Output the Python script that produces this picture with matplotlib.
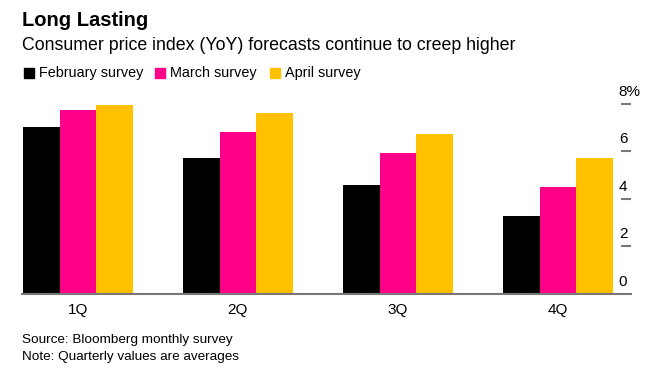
import numpy as np
import matplotlib.pyplot as plt
from matplotlib.patches import Rectangle
import matplotlib.transforms as mtransforms

plt.rcParams['font.family'] = ['Liberation Sans', 'DejaVu Sans']

quarters = ["1Q", "2Q", "3Q", "4Q"]
feb = [7.00, 5.71, 4.59, 3.28]
mar = [7.72, 6.79, 5.92, 4.50]
apr = [7.93, 7.59, 6.71, 5.71]
series_names = ["February survey", "March survey", "April survey"]
colors = ["#000000", "#ff0088", "#ffc000"]
yticks = [0, 2, 4, 6, 8]
ytick_labels = ["0", "2", "4", "6", "8%"]

fig = plt.figure(figsize=(6.6, 3.75), dpi=100)
ax = fig.add_axes([22 / 660, 1 - 293.7 / 375, 609 / 660, 190 / 375])

x = np.arange(len(quarters))
w = 0.229
for i, (vals, c) in enumerate(zip([feb, mar, apr], colors)):
    ax.bar(x + (i - 1) * w, vals, width=w, color=c, linewidth=0)

ax.set_xlim(-0.349, 3.457)
ax.set_ylim(0, 8)
for s in ["top", "left", "right"]:
    ax.spines[s].set_visible(False)
ax.spines["bottom"].set_color("#777777")
ax.spines["bottom"].set_linewidth(1.5)

ax.set_xticks(x)
ax.set_xticklabels(quarters, fontsize=11)
ax.tick_params(axis="x", length=0, pad=7)

ax.yaxis.tick_right()
ax.set_yticks(yticks[1:])
ax.set_yticklabels([])
ax.tick_params(axis="y", direction="in", length=7.5, width=1.5, color="#777777", pad=0)

# value labels sit just above each tick dash
offset = mtransforms.offset_copy(ax.get_yaxis_transform(), fig=fig, x=0, y=12, units="dots")
for v, lab in zip(yticks, ytick_labels):
    ax.text(0.98, v, lab, transform=offset, ha="left", va="center", fontsize=11)

fig.text(22 / 660, 1 - 20 / 375, "Long Lasting", fontsize=14.5, fontweight="bold", va="center")
fig.text(22 / 660, 1 - 46 / 375, "Consumer price index (YoY) forecasts continue to creep higher",
         fontsize=12.8, va="center")

# legend
lx = [24, 155, 270]
for px, name, c in zip(lx, series_names, colors):
    fig.patches.append(Rectangle((px / 660, 1 - 77.5 / 375), 9.5 / 660, 9.5 / 375,
                                 transform=fig.transFigure, color=c))
    fig.text((px + 15) / 660, 1 - 73 / 375, name, fontsize=10.4, va="center")

fig.text(22 / 660, 1 - 340 / 375, "Source: Bloomberg monthly survey", fontsize=9.7, va="center")
fig.text(22 / 660, 1 - 357 / 375, "Note: Quarterly values are averages", fontsize=9.7, va="center")

fig.savefig("out.png", dpi=100)
